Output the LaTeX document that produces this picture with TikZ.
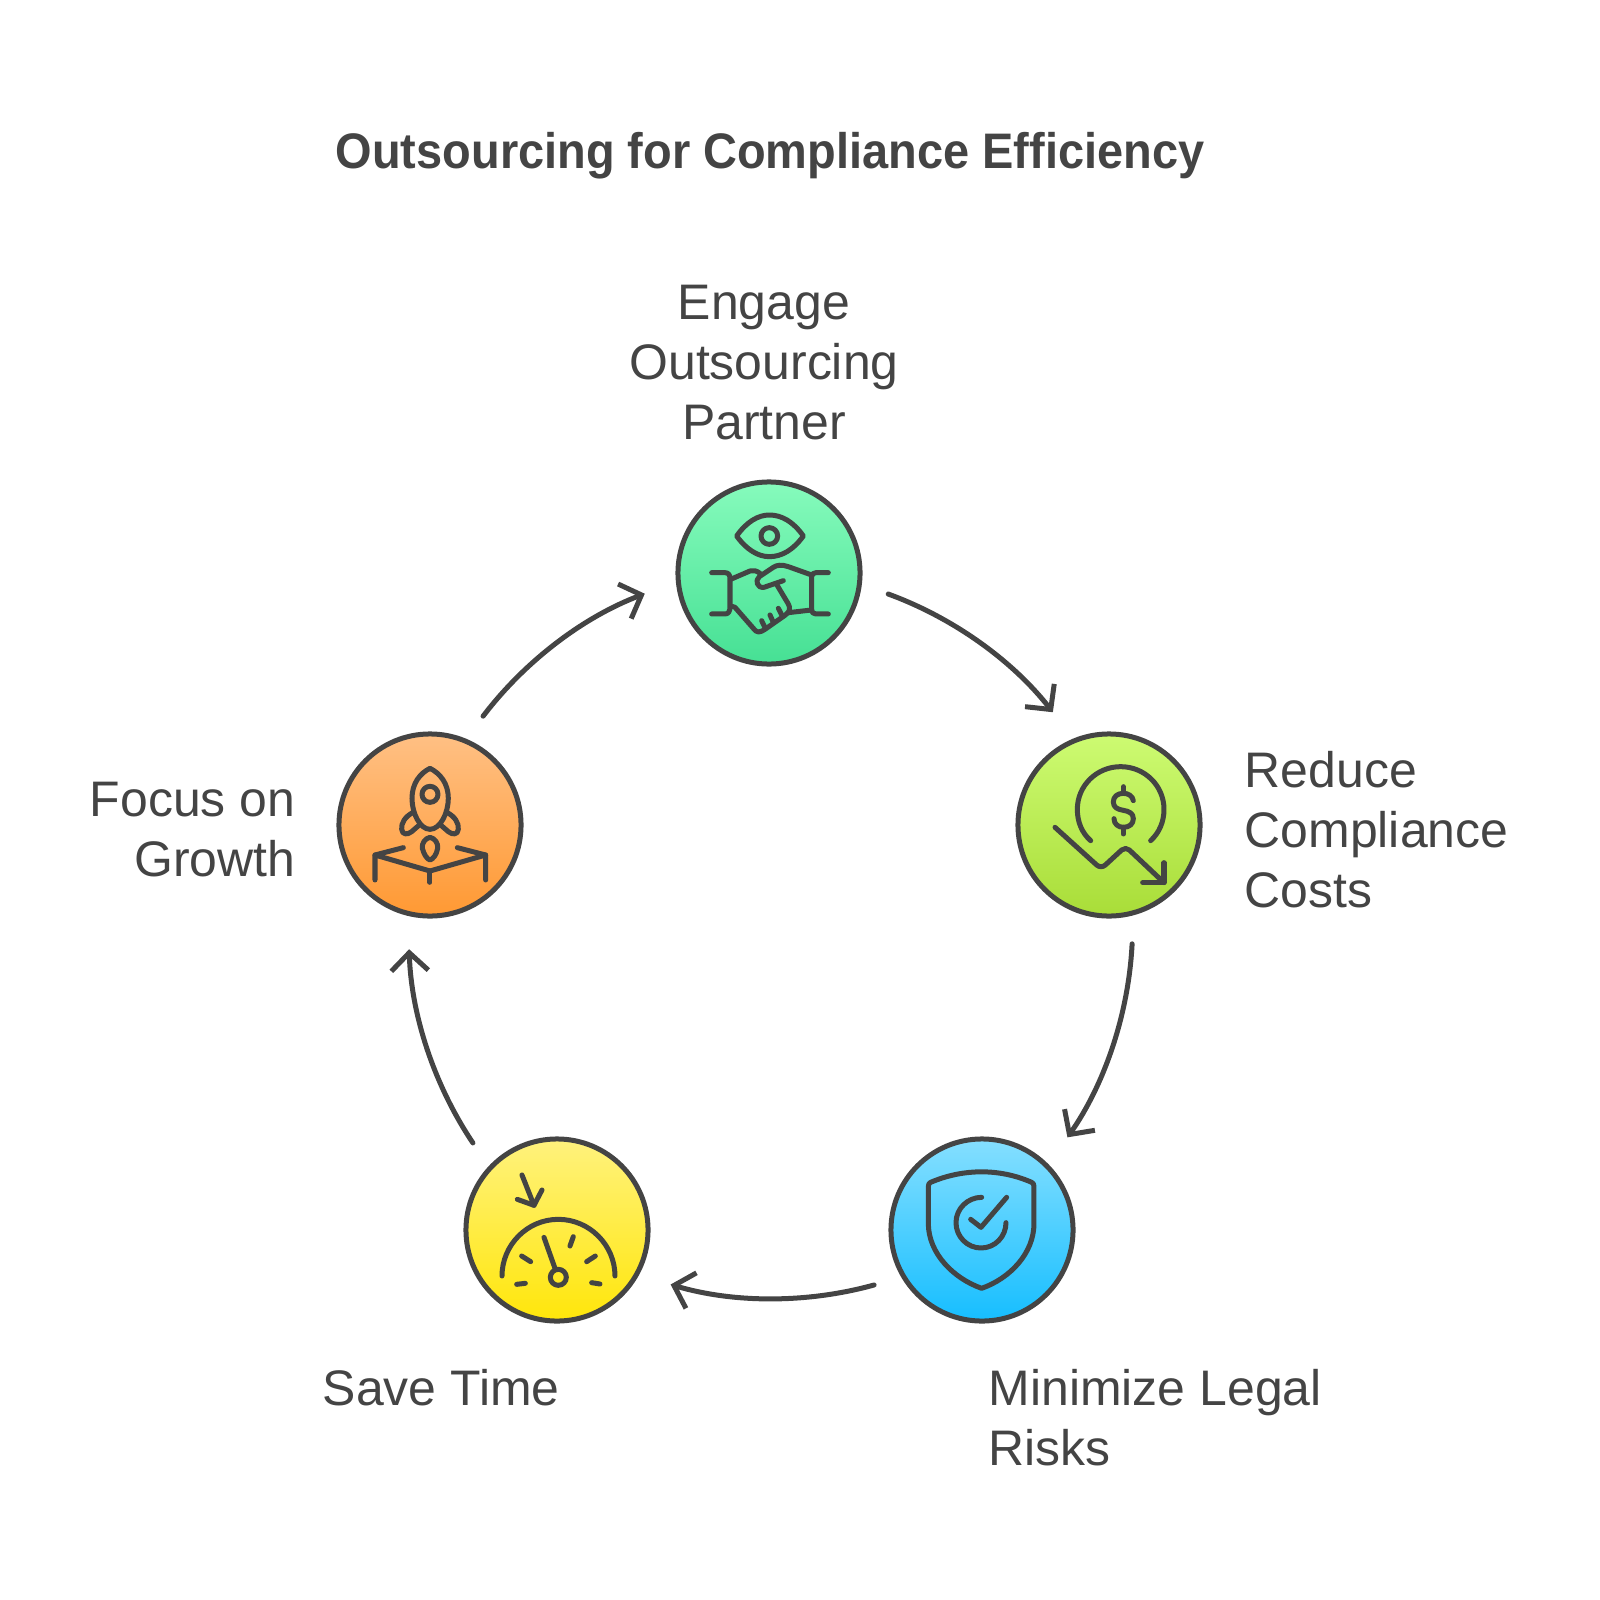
\documentclass[tikz,border=0pt]{standalone}
\usepackage{fontspec}
\setmainfont{Liberation Sans}[BoldFeatures={FakeStretch=0.94}]
\usetikzlibrary{arrows.meta}
\definecolor{encre}{HTML}{444444}
\definecolor{vertA}{HTML}{86FBBC}
\definecolor{vertB}{HTML}{46E094}
\definecolor{limeA}{HTML}{CDFB72}
\definecolor{limeB}{HTML}{A9DD38}
\definecolor{bleuA}{HTML}{85DFFF}
\definecolor{bleuB}{HTML}{16BEFF}
\definecolor{jauneA}{HTML}{FFF27D}
\definecolor{jauneB}{HTML}{FFE60A}
\definecolor{orangeA}{HTML}{FFC084}
\definecolor{orangeB}{HTML}{FF9933}

\begin{document}
\begin{tikzpicture}[x=0.01cm, y=-0.01cm]
\tikzset{rond/.style={draw=encre, circle, line width=0.05cm, minimum size=1.82cm, inner sep=0pt, outer sep=0.30cm, shading=axis, shading angle=0}}
\tikzset{fleche/.style={draw=encre, line width=0.05cm, line cap=round, line join=round, looseness=0.86, shorten >=0.05cm, -{Straight Barb[length=0.18cm, width=0.37cm, line width=0.05cm]}}}
\tikzset{icone/.style={draw=encre, line width=0.05cm, line cap=round, line join=round}}
\tikzset{texte/.style={text=encre, inner sep=0pt, font=\fontsize{14.2pt}{17.05pt}\selectfont}}
\useasboundingbox (0,0) rectangle (1600,1600);
\node[text=encre, font=\fontsize{14.2pt}{17.2pt}\selectfont\bfseries] (T0) at (770,156) {Outsourcing for Compliance Efficiency};
\node[rond, top color=vertA, bottom color=vertB] (V1) at (769,573) {};
\node[rond, top color=limeA, bottom color=limeB] (V2) at (1109,825) {};
\node[rond, top color=bleuA, bottom color=bleuB] (V3) at (982,1230) {};
\node[rond, top color=jauneA, bottom color=jauneB] (V4) at (557,1230) {};
\node[rond, top color=orangeA, bottom color=orangeB] (V5) at (430,825) {};
\node[texte, align=center] (T1) at (764,363) {Engage\\Outsourcing\\Partner};
\node[texte, align=left, anchor=west] (T2) at (1244,830) {Reduce\\Compliance\\Costs};
\node[texte, align=left, anchor=west] (T3) at (988,1418) {Minimize Legal\\Risks};
\node[texte, anchor=west] (T4) at (322,1388) {Save Time};
\node[texte, align=right, anchor=east] (T5) at (296,830) {Focus on\\Growth};
\draw[fleche] (V1.-10) to[bend left=16] (V2.116);
\draw[fleche] (V2.-79) to[bend left=16] (V3.47);
\draw[fleche] (V3.207) to[bend left=16] (V4.-26);
\draw[fleche] (V4.134) to[bend left=16] (V5.260);
\draw[fleche] (V5.64) to[bend left=16] (V1.189);
% poignee de main et oeil
\begin{scope}[shift={(640,460)}, scale=0.3333]
\draw[icone] (290,228) .. controls (320,185) and (355,165) .. (388,165) .. controls (425,165) and (460,185) .. (490,228) .. controls (460,270) and (425,290) .. (388,290) .. controls (355,290) and (320,270) .. (290,228) -- cycle;
\draw[icone] (388,228) circle (25);
\draw[icone] (215,338) -- (255,338) .. controls (265,338) and (270,345) .. (270,355) -- (270,440) .. controls (270,455) and (265,462) .. (255,462) -- (215,462);
\draw[icone] (565,338) -- (528,338) .. controls (520,338) and (515,343) .. (515,350) -- (515,450) .. controls (515,457) and (520,462) .. (528,462) -- (565,462);
\draw[icone] (272,358) -- (330,333) .. controls (340,330) and (350,332) .. (360,340);
\draw[icone] (272,438) -- (285,442) -- (340,505) .. controls (350,520) and (360,518) .. (375,508) -- (435,466) .. controls (450,455) and (452,445) .. (445,432) -- (408,370);
\draw[icone] (365,482) -- (375,503);
\draw[icone] (390,465) -- (400,487);
\draw[icone] (415,445) -- (428,470);
\draw[icone] (515,345) -- (445,320) .. controls (425,313) and (410,315) .. (400,322) -- (358,350) .. controls (345,360) and (350,385) .. (372,382) -- (430,362);
\draw[icone] (445,458) -- (515,450);
\end{scope}
% dollar et courbe
\begin{scope}[shift={(1000,710)}, scale=0.3333]
\draw[icone] (272,392) .. controls (245,368) and (232,335) .. (232,298) .. controls (232,227) and (290,170) .. (362,170) .. controls (434,170) and (492,227) .. (492,298) .. controls (492,335) and (478,368) .. (452,392);
\draw[icone] (370,230) -- (370,250);
\draw[icone] (370,352) -- (370,372);
\draw[icone] (400,272) .. controls (398,258) and (385,250) .. (370,250) .. controls (352,250) and (340,260) .. (340,276) .. controls (340,292) and (352,298) .. (370,301) .. controls (388,304) and (400,310) .. (400,326) .. controls (400,342) and (388,352) .. (370,352) .. controls (355,352) and (342,342) .. (342,326);
\draw[icone] (165,352) -- (290,465) .. controls (298,472) and (308,472) .. (316,465) -- (365,420) .. controls (372,414) and (382,414) .. (388,420) -- (492,518);
\draw[icone] (428,518) -- (492,518) -- (492,458);
\end{scope}
% bouclier
\begin{scope}[shift={(870,1120)}, scale=0.3333]
\draw[icone] (182,187) .. controls (280,145) and (390,145) .. (485,187) .. controls (490,189) and (492,193) .. (492,200) -- (492,310) .. controls (492,400) and (420,475) .. (335,505) .. controls (250,475) and (175,400) .. (175,310) -- (175,200) .. controls (175,193) and (177,189) .. (182,187) -- cycle;
\draw[icone] (335,232) .. controls (293,232) and (258,266) .. (258,308) .. controls (258,350) and (292,384) .. (333,384) .. controls (375,384) and (408,350) .. (408,308);
\draw[icone] (302,298) -- (333,322) -- (410,232);
\end{scope}
% compteur
\begin{scope}[shift={(440,1120)}, scale=0.3333]
\draw[icone] (246,165) -- (282,256);
\draw[icone] (232,238) -- (282,256) -- (306,210);
\draw[icone] (186,468) .. controls (186,375) and (262,298) .. (355,298) .. controls (448,298) and (525,375) .. (525,468);
\draw[icone] (312,352) -- (345,445);
\draw[icone] (355,472) circle (24);
\draw[icone] (400,350) -- (390,378);
\draw[icone] (466,408) -- (440,425);
\draw[icone] (480,492) -- (455,488);
\draw[icone] (256,490) -- (230,493);
\draw[icone] (245,408) -- (272,425);
\end{scope}
% fusee
\begin{scope}[shift={(320,710)}, scale=0.3333]
\draw[icone] (330,175) .. controls (300,190) and (276,220) .. (276,265) .. controls (276,310) and (300,358) .. (330,358) .. controls (360,358) and (385,310) .. (385,265) .. controls (385,220) and (360,190) .. (330,175) -- cycle;
\draw[icone] (330,253) circle (24);
\draw[icone] (278,308) .. controls (255,320) and (243,340) .. (245,358) .. controls (247,375) and (262,375) .. (275,365) -- (298,345);
\draw[icone] (382,308) .. controls (405,320) and (417,340) .. (415,358) .. controls (413,375) and (398,375) .. (385,365) -- (362,345);
\draw[icone] (330,382) .. controls (315,385) and (305,400) .. (307,415) .. controls (312,435) and (322,448) .. (330,450) .. controls (338,448) and (350,435) .. (353,415) .. controls (355,400) and (345,385) .. (330,382) -- cycle;
\draw[icone] (165,510) -- (165,435) -- (330,483) -- (497,435) -- (497,510);
\draw[icone] (250,413) -- (165,435);
\draw[icone] (412,413) -- (497,435);
\draw[icone] (330,483) -- (330,517);
\end{scope}
\end{tikzpicture}
\end{document}
